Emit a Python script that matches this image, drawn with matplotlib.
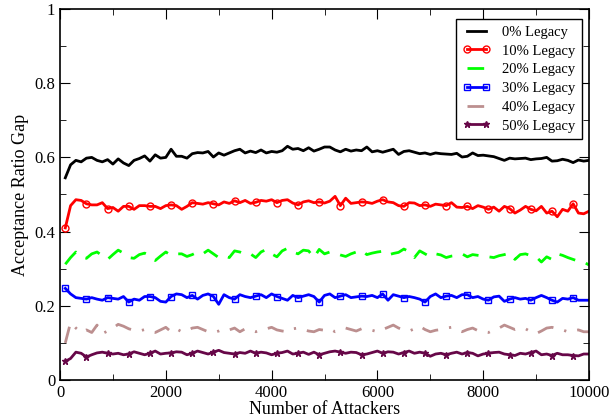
import matplotlib.pyplot as plt
from matplotlib.ticker import MultipleLocator

plt.rcParams['font.family'] = ['Liberation Serif', 'DejaVu Serif']

# number of attackers: 100 .. 10000 in steps of 100
attackers = list(range(100, 10001, 100))

legacy_0 = [
    0.545, 0.580, 0.592, 0.588, 0.598, 0.600, 0.592, 0.588, 0.594, 0.582,
    0.596, 0.585, 0.578, 0.592, 0.597, 0.604, 0.590, 0.607, 0.598, 0.600,
    0.622, 0.603, 0.603, 0.598, 0.610, 0.613, 0.612, 0.616, 0.601, 0.612,
    0.606, 0.612, 0.618, 0.622, 0.612, 0.617, 0.613, 0.620, 0.612, 0.616,
    0.614, 0.618, 0.630, 0.622, 0.624, 0.618, 0.626, 0.617, 0.622, 0.628,
    0.628, 0.620, 0.615, 0.622, 0.617, 0.620, 0.618, 0.628, 0.615, 0.618,
    0.614, 0.618, 0.622, 0.608, 0.616, 0.618, 0.614, 0.610, 0.612, 0.608,
    0.612, 0.610, 0.609, 0.608, 0.611, 0.601, 0.603, 0.612, 0.605, 0.606,
    0.604, 0.602, 0.597, 0.592, 0.598, 0.596, 0.597, 0.598, 0.594, 0.596,
    0.597, 0.600, 0.590, 0.591, 0.595, 0.592, 0.586, 0.593, 0.590, 0.592,
]
legacy_10 = [
    0.410, 0.470, 0.486, 0.484, 0.475, 0.472, 0.472, 0.478, 0.462, 0.465,
    0.455, 0.468, 0.468, 0.460, 0.470, 0.470, 0.468, 0.468, 0.462, 0.470,
    0.472, 0.470, 0.460, 0.468, 0.478, 0.476, 0.474, 0.478, 0.475, 0.472,
    0.480, 0.476, 0.483, 0.478, 0.484, 0.476, 0.479, 0.484, 0.482, 0.486,
    0.478, 0.484, 0.486, 0.477, 0.472, 0.480, 0.483, 0.478, 0.480, 0.477,
    0.482, 0.495, 0.470, 0.490, 0.476, 0.478, 0.480, 0.479, 0.476, 0.482,
    0.486, 0.480, 0.478, 0.470, 0.468, 0.478, 0.477, 0.470, 0.472, 0.468,
    0.474, 0.472, 0.470, 0.478, 0.466, 0.465, 0.468, 0.462, 0.470, 0.466,
    0.460, 0.466, 0.455, 0.468, 0.462, 0.450, 0.458, 0.468, 0.460, 0.456,
    0.468, 0.450, 0.455, 0.440, 0.460, 0.455, 0.475, 0.450, 0.448, 0.455,
]
legacy_20 = [
    0.312, 0.330, 0.345, 0.332, 0.328, 0.340, 0.345, 0.335, 0.325, 0.338,
    0.350, 0.342, 0.330, 0.328, 0.338, 0.342, 0.335, 0.322, 0.334, 0.345,
    0.336, 0.340, 0.340, 0.333, 0.338, 0.345, 0.340, 0.350, 0.340, 0.330,
    0.335, 0.330, 0.348, 0.345, 0.338, 0.340, 0.330, 0.345, 0.352, 0.340,
    0.332, 0.348, 0.355, 0.345, 0.340, 0.350, 0.348, 0.330, 0.352, 0.340,
    0.345, 0.342, 0.337, 0.333, 0.340, 0.345, 0.350, 0.338, 0.342, 0.345,
    0.347, 0.337, 0.341, 0.344, 0.353, 0.346, 0.330, 0.348, 0.340, 0.332,
    0.340, 0.337, 0.330, 0.334, 0.336, 0.340, 0.332, 0.338, 0.336, 0.334,
    0.332, 0.330, 0.335, 0.338, 0.342, 0.325, 0.338, 0.340, 0.335, 0.332,
    0.318, 0.332, 0.325, 0.340, 0.336, 0.330, 0.325, 0.320, 0.318, 0.310,
]
legacy_30 = [
    0.247, 0.232, 0.222, 0.220, 0.218, 0.222, 0.218, 0.215, 0.222, 0.220,
    0.218, 0.225, 0.210, 0.218, 0.215, 0.225, 0.225, 0.222, 0.212, 0.210,
    0.225, 0.232, 0.230, 0.222, 0.228, 0.218, 0.228, 0.232, 0.225, 0.204,
    0.230, 0.222, 0.218, 0.230, 0.225, 0.222, 0.226, 0.230, 0.222, 0.232,
    0.225, 0.220, 0.215, 0.228, 0.222, 0.226, 0.230, 0.225, 0.210, 0.228,
    0.232, 0.222, 0.226, 0.230, 0.222, 0.224, 0.226, 0.225, 0.228, 0.222,
    0.232, 0.215, 0.230, 0.226, 0.222, 0.225, 0.222, 0.218, 0.210, 0.225,
    0.232, 0.222, 0.226, 0.228, 0.222, 0.230, 0.230, 0.222, 0.225, 0.218,
    0.215, 0.224, 0.226, 0.212, 0.218, 0.222, 0.218, 0.220, 0.215, 0.222,
    0.228, 0.222, 0.215, 0.210, 0.220, 0.218, 0.222, 0.215, 0.215, 0.215,
]
legacy_40 = [
    0.100, 0.155, 0.140, 0.128, 0.135, 0.128, 0.148, 0.125, 0.132, 0.140,
    0.150, 0.145, 0.138, 0.134, 0.132, 0.136, 0.130, 0.128, 0.135, 0.142,
    0.130, 0.138, 0.130, 0.132, 0.140, 0.142, 0.136, 0.130, 0.128, 0.132,
    0.138, 0.135, 0.140, 0.130, 0.138, 0.134, 0.130, 0.135, 0.138, 0.142,
    0.135, 0.132, 0.130, 0.138, 0.140, 0.136, 0.132, 0.130, 0.136, 0.134,
    0.138, 0.130, 0.134, 0.140, 0.136, 0.132, 0.138, 0.135, 0.134, 0.130,
    0.136, 0.142, 0.148, 0.140, 0.135, 0.132, 0.138, 0.145, 0.136, 0.130,
    0.134, 0.136, 0.140, 0.142, 0.135, 0.130, 0.136, 0.140, 0.133, 0.130,
    0.128, 0.135, 0.140, 0.148, 0.142, 0.136, 0.140, 0.138, 0.130, 0.125,
    0.132, 0.140, 0.142, 0.138, 0.135, 0.130, 0.133, 0.135, 0.130, 0.130,
]
legacy_50 = [
    0.050, 0.058, 0.075, 0.072, 0.062, 0.068, 0.073, 0.075, 0.072, 0.070,
    0.072, 0.068, 0.070, 0.076, 0.072, 0.068, 0.072, 0.078, 0.070, 0.072,
    0.073, 0.076, 0.075, 0.068, 0.072, 0.078, 0.074, 0.070, 0.075, 0.080,
    0.074, 0.072, 0.070, 0.074, 0.072, 0.078, 0.072, 0.075, 0.073, 0.068,
    0.072, 0.074, 0.078, 0.070, 0.072, 0.075, 0.069, 0.075, 0.068, 0.072,
    0.076, 0.078, 0.075, 0.072, 0.075, 0.074, 0.068, 0.070, 0.074, 0.078,
    0.072, 0.076, 0.075, 0.070, 0.074, 0.078, 0.072, 0.075, 0.072, 0.064,
    0.070, 0.072, 0.068, 0.072, 0.075, 0.070, 0.074, 0.072, 0.065, 0.070,
    0.072, 0.074, 0.075, 0.070, 0.068, 0.066, 0.072, 0.070, 0.074, 0.078,
    0.068, 0.070, 0.066, 0.072, 0.068, 0.068, 0.066, 0.065, 0.070, 0.070,
]

fig = plt.figure(figsize=(6.11, 4.19), dpi=100)
ax = fig.add_axes([0.0982, 0.0931, 0.8658, 0.8854])

lw = 2.0
ax.plot(attackers, legacy_0, color='black', lw=lw, label='0% Legacy')
ax.plot(attackers, legacy_10, color='red', lw=lw, marker='o', ms=5, mfc='none',
        mew=1, markevery=4, label='10% Legacy')
ax.plot(attackers, legacy_20, color='#00ff00', lw=lw, dashes=(6, 4), label='20% Legacy')
ax.plot(attackers, legacy_30, color='blue', lw=lw, marker='s', ms=4.5, mfc='none',
        mew=1, markevery=4, label='30% Legacy')
ax.plot(attackers, legacy_40, color='#bc8f8f', lw=lw, dashes=(6, 4, 0.8, 4), label='40% Legacy')
ax.plot(attackers, legacy_50, color='#670748', lw=lw, marker='*', ms=4.5,
        markevery=4, label='50% Legacy')

ax.set_xlim(0, 10000)
ax.set_ylim(0, 1)
ax.xaxis.set_major_locator(MultipleLocator(2000))
ax.xaxis.set_minor_locator(MultipleLocator(1000))
ax.yaxis.set_minor_locator(MultipleLocator(0.1))
ax.set_yticks([0, 0.2, 0.4, 0.6, 0.8, 1.0])
ax.set_yticklabels(['0', '0.2', '0.4', '0.6', '0.8', '1'])
ax.tick_params(which='both', direction='in', top=True, right=True, labelsize=12)
ax.tick_params(which='major', length=7)
ax.tick_params(which='minor', length=4)
for s in ax.spines.values():
    s.set_linewidth(1.2)

ax.set_xlabel('Number of Attackers', fontsize=13, labelpad=0)
ax.set_ylabel('Acceptance Ratio Gap', fontsize=13, labelpad=4)

leg = ax.legend(loc='upper right', bbox_to_anchor=(0.987, 0.973), borderaxespad=0,
                fontsize=10.5, numpoints=2, handlelength=1.9, handletextpad=0.8,
                fancybox=False, framealpha=1, edgecolor='black',
                labelspacing=0.38, borderpad=0.45)
leg.get_frame().set_linewidth(1.0)

fig.savefig('out.png', dpi=100)
